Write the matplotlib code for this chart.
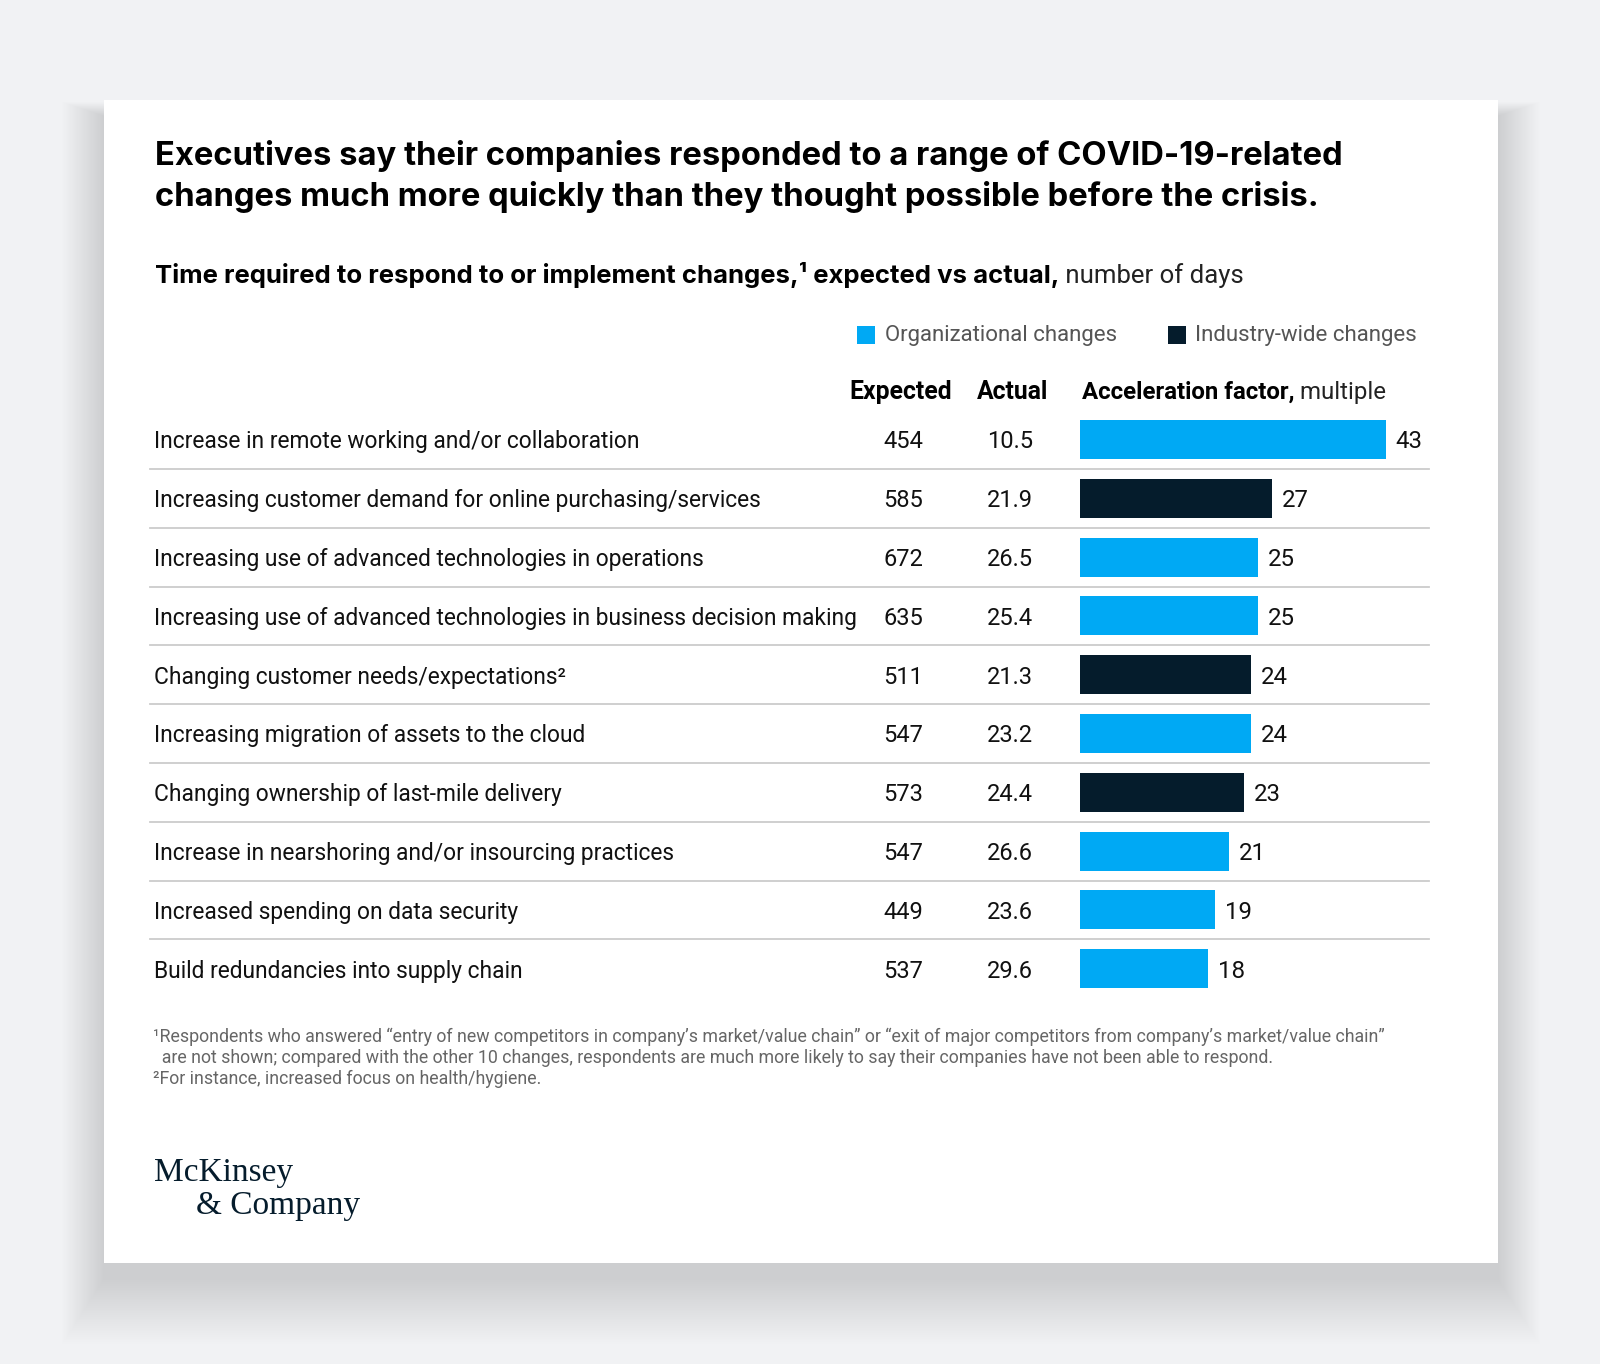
import matplotlib
matplotlib.use("Agg")
import matplotlib.pyplot as plt
import matplotlib.transforms as mtransforms
from matplotlib.patches import Rectangle

# --- data ---
categories = [
    "Increase in remote working and/or collaboration",
    "Increasing customer demand for online purchasing/services",
    "Increasing use of advanced technologies in operations",
    "Increasing use of advanced technologies in business decision making",
    "Changing customer needs/expectations\u00b2",
    "Increasing migration of assets to the cloud",
    "Changing ownership of last-mile delivery",
    "Increase in nearshoring and/or insourcing practices",
    "Increased spending on data security",
    "Build redundancies into supply chain",
]
expected = [454, 585, 672, 635, 511, 547, 573, 547, 449, 537]
actual = [10.5, 21.9, 26.5, 25.4, 21.3, 23.2, 24.4, 26.6, 23.6, 29.6]
factor = [43, 27, 25, 25, 24, 24, 23, 21, 19, 18]
change_type = ["org", "ind", "org", "org", "ind", "org", "ind", "org", "org", "org"]

BLUE = "#00A9F4"
NAVY = "#051C2C"
colors = {"org": BLUE, "ind": NAVY}

BODY = ["Roboto", "DejaVu Sans"]
plt.rcParams["font.family"] = BODY

W, H = 1600, 1364
fig = plt.figure(figsize=(W / 100, H / 100), dpi=100)
fig.patch.set_facecolor("#F1F2F4")

# background axes in pixel units
bg = fig.add_axes([0, 0, 1, 1])
bg.set_xlim(0, W)
bg.set_ylim(H, 0)
bg.axis("off")

# soft card shadow (mostly below) + card
for k in range(36):
    pad = 1 + k * 1.3
    bg.add_patch(Rectangle((104 - pad * 0.9, 100 - pad * 0.3 + 16), 1394 + 1.8 * pad, 1163 + pad * 1.7,
                           facecolor="#8c96aa", edgecolor="none", alpha=0.0065, zorder=0))
bg.add_patch(Rectangle((104, 100), 1394, 1163, facecolor="white", edgecolor="none", zorder=1))

# title
for i, line in enumerate(["Executives say their companies responded to a range of COVID-19-related",
                          "changes much more quickly than they thought possible before the crisis."]):
    bg.text(155, 156 + i * 41, line, fontsize=23.6, fontweight="bold", va="center", ha="left",
            color="black", zorder=3, family=["Inter", "DejaVu Sans"])

# subtitle
t1 = bg.text(155, 275, "Time required to respond to or implement changes,\u00b9 expected vs actual,",
             fontsize=18.5, fontweight="bold", va="center", ha="left", color="black", zorder=3,
             family=["Inter", "DejaVu Sans"])
bg.annotate(" number of days", xy=(1, 0), xycoords=t1, va="bottom", ha="left",
            fontsize=18.5, color="#222222", zorder=3)

# legend
bg.add_patch(Rectangle((857, 326), 18, 18, facecolor=BLUE, edgecolor="none", zorder=3))
bg.text(885, 336, "Organizational changes", fontsize=16, color="#555555", va="center", zorder=3)
bg.add_patch(Rectangle((1168, 326), 18, 18, facecolor=NAVY, edgecolor="none", zorder=3))
bg.text(1195, 336, "Industry-wide changes", fontsize=16, color="#555555", va="center", zorder=3)

# column headers
bg.text(901, 392, "Expected", fontsize=17.8, fontweight="bold", ha="center", va="center", zorder=3)
bg.text(1013, 392, "Actual", fontsize=17.8, fontweight="bold", ha="center", va="center", zorder=3)
h1 = bg.text(1082, 392, "Acceleration factor,", fontsize=17.3, fontweight="bold",
             ha="left", va="center", zorder=3)
bg.annotate(" multiple", xy=(1, 0), xycoords=h1, va="bottom", ha="left", fontsize=17.3,
            color="#222222", zorder=3)

# bar axes
n = len(categories)
row_h = 58.8
top = 439.5 - row_h / 2
px_per_unit = 7.11
ax_left, ax_right = 1080, 1429
ax = fig.add_axes([ax_left / W, 1 - (top + n * row_h) / H,
                   (ax_right - ax_left) / W, n * row_h / H], zorder=4)
ax.set_xlim(0, (ax_right - ax_left) / px_per_unit)
ax.set_ylim(n - 0.5, -0.5)
ax.axis("off")
ax.patch.set_alpha(0)

ys = list(range(n))
ax.barh(ys, factor, height=0.66, color=[colors[c] for c in change_type])
for y, v in zip(ys, factor):
    ax.text(v + 1.4, y + 0.04, str(v), va="center", ha="left", fontsize=17.3, color="#111111")

# table text using pixel x, row y
tr = mtransforms.blended_transform_factory(bg.transData, ax.transData)
for y, (cat, e, a) in enumerate(zip(categories, expected, actual)):
    yt = y + 0.04
    bg.text(154, yt, cat, transform=tr, fontsize=16.4, va="center", ha="left", color="#111111", zorder=3)
    bg.text(923, yt, str(e), transform=tr, fontsize=17, va="center", ha="right", color="#111111", zorder=3)
    bg.text(1033, yt, f"{a:.1f}", transform=tr, fontsize=17, va="center", ha="right", color="#111111", zorder=3)
    if y < n - 1:
        bg.plot([150, 1429], [y + 0.5, y + 0.5], transform=tr, color="#cccccc", lw=1.3, zorder=2)

# footnotes
fn = [
    "\u00b9Respondents who answered \u201centry of new competitors in company\u2019s market/value chain\u201d or \u201cexit of major competitors from company\u2019s market/value chain\u201d",
    "  are not shown; compared with the other 10 changes, respondents are much more likely to say their companies have not been able to respond.",
    "\u00b2For instance, increased focus on health/hygiene.",
]
for i, line in enumerate(fn):
    bg.text(153, 1037 + i * 21.2, line, fontsize=12.8, color="#666666", va="center", ha="left", zorder=3)

# logo
bg.text(154, 1173, "McKinsey", fontsize=24, color=NAVY, va="center", ha="left", zorder=3,
        family=["Liberation Serif", "DejaVu Serif"])
bg.text(196, 1206, "& Company", fontsize=24, color=NAVY, va="center", ha="left", zorder=3,
        family=["Liberation Serif", "DejaVu Serif"])

fig.savefig("out.png", dpi=100, facecolor=fig.get_facecolor())
